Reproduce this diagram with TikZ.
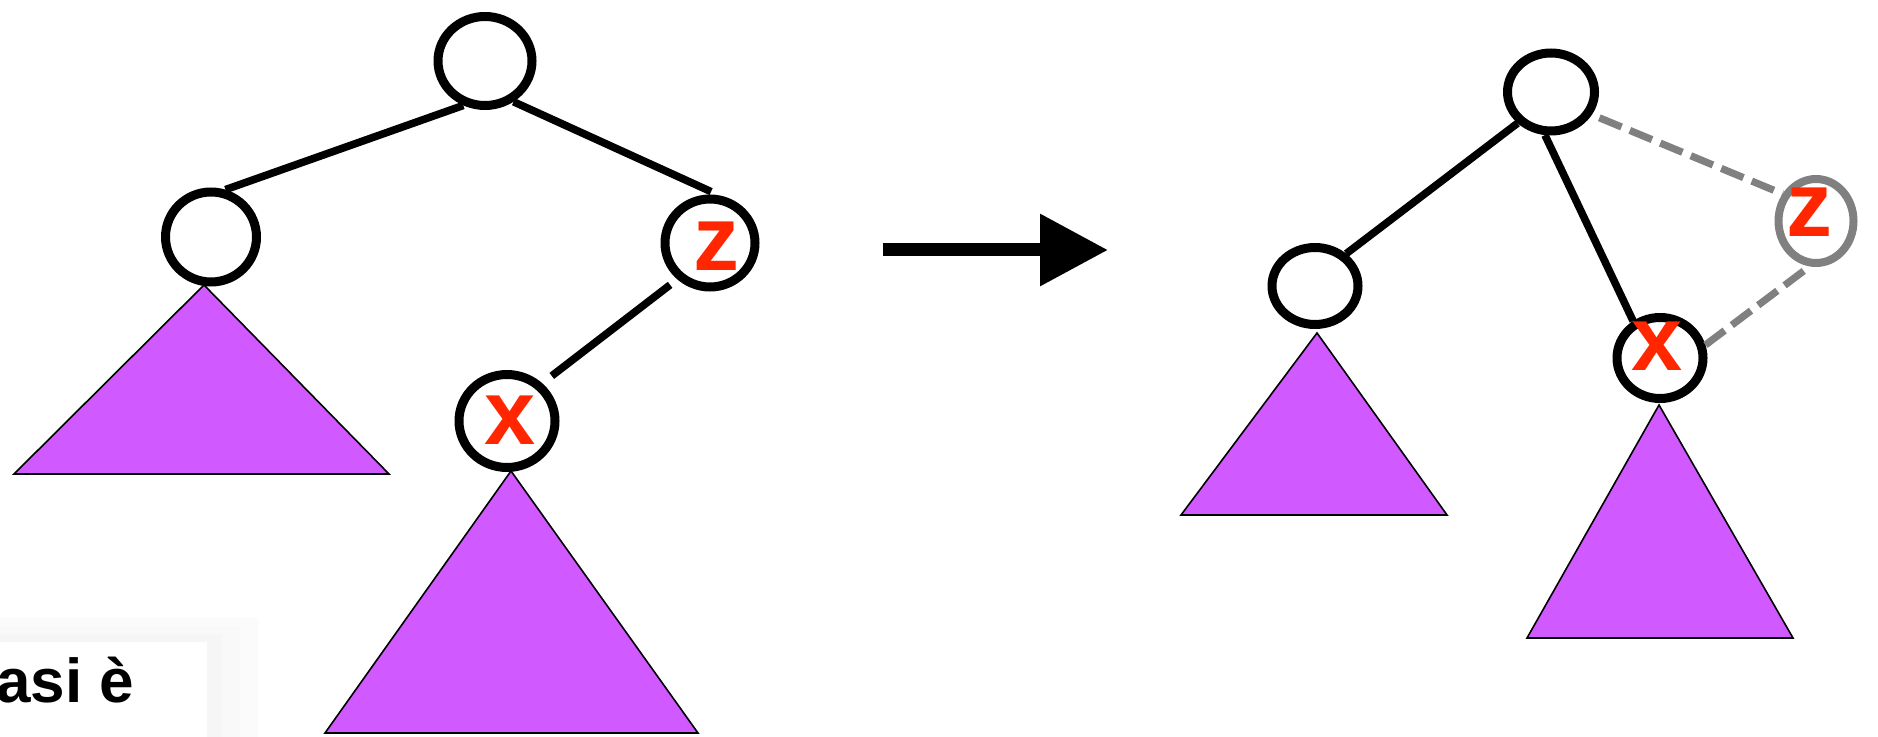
\documentclass[tikz,border=0pt]{standalone}
\usepackage{fontspec}
\setmainfont{Liberation Sans}
\usetikzlibrary{shapes.geometric,backgrounds,arrows.meta}
\definecolor{purp}{RGB}{208,90,255}
\definecolor{markred}{RGB}{255,38,0}
\definecolor{ghost}{RGB}{128,128,128}
\begin{document}
\begin{tikzpicture}[x=0.5pt, y=-0.5pt,
    vert/.style={draw, line width=4.5pt, ellipse, inner sep=0pt},
    tag/.style={text=markred, inner sep=0pt, font=\fontsize{46}{46}\selectfont\bfseries},
    branch/.style={line width=3.8pt},
    ghostbranch/.style={line width=3.6pt, draw=ghost, dash pattern=on 12pt off 4.5pt},
    subtree/.style={fill=purp, draw=black, line width=0.8pt}]

    \useasboundingbox (0,0) rectangle (1878,737);

    % Caption box with soft shadow
    \fill[gray!3] (-10,618) rectangle (258,760);
    \fill[gray!5] (-10,626) rectangle (240,760);
    \fill[gray!7] (-10,634) rectangle (222,760);
    \fill[white] (-10,642) rectangle (207,760);
    \node[anchor=base west, inner sep=0pt, font=\fontsize{31}{31}\selectfont\bfseries] (caption) at (-4,702) {asi è};

    % Left tree
    \node[vert, minimum width=47pt, minimum height=44.5pt] (r1) at (485,61) {};
    \node[vert, minimum width=45.5pt, minimum height=45pt] (a1) at (211,237) {};
    \node[vert, minimum width=45pt, minimum height=44pt] (z1) at (710,243) {};
    \node[vert, minimum width=48pt, minimum height=46.5pt] (x1) at (507,421) {};
    \node[tag] (zl1) at (716,246) {z};
    \node[tag] (xl1) at (510,420) {x};

    \draw[branch] (a1.73) -- (r1.244);
    \draw[branch, shorten >=4.5pt] (r1.305) -- (z1.79);
    \draw[branch, shorten <=4.5pt, shorten >=6pt] (z1.228) -- (x1.47);

    % Left subtrees
    \begin{scope}[on background layer]
      \draw[subtree] (204,285) -- (14,474) -- (389,474) -- cycle;
      \draw[subtree] (511,471) -- (325,733) -- (698,733) -- cycle;
    \end{scope}

    % Rotation arrow
    \coordinate (arrS) at (883,250);
    \coordinate (arrE) at (1108,250);
    \draw[line width=6.5pt, -{Triangle[length=34pt, width=34.5pt]}] (arrS) -- (arrE);

    % Right tree
    \node[vert, minimum width=43.5pt, minimum height=39pt] (r2) at (1551,92) {};
    \node[vert, minimum width=43pt, minimum height=38.5pt] (a2) at (1315,286) {};
    \node[vert, minimum width=43pt, minimum height=40.5pt] (x2) at (1660,358) {};
    \node[vert, draw=ghost, line width=4pt, minimum width=37.5pt, minimum height=42pt] (z2) at (1816,221) {};
    \node[tag] (zl2) at (1809,212) {z};
    \node[tag] (xl2) at (1657,346) {x};

    \draw[branch] (a2.46) -- (r2.223);
    \draw[branch] (r2.262) -- (x2.126);
    \draw[ghostbranch, shorten <=4pt] (r2.331) -- (z2.141);
    \draw[ghostbranch] (x2.16) -- (z2.262);

    % Right subtrees
    \begin{scope}[on background layer]
      \draw[subtree] (1317,333) -- (1181,515) -- (1447,515) -- cycle;
      \draw[subtree] (1659,405) -- (1527,638) -- (1793,638) -- cycle;
    \end{scope}

\end{tikzpicture}
\end{document}
